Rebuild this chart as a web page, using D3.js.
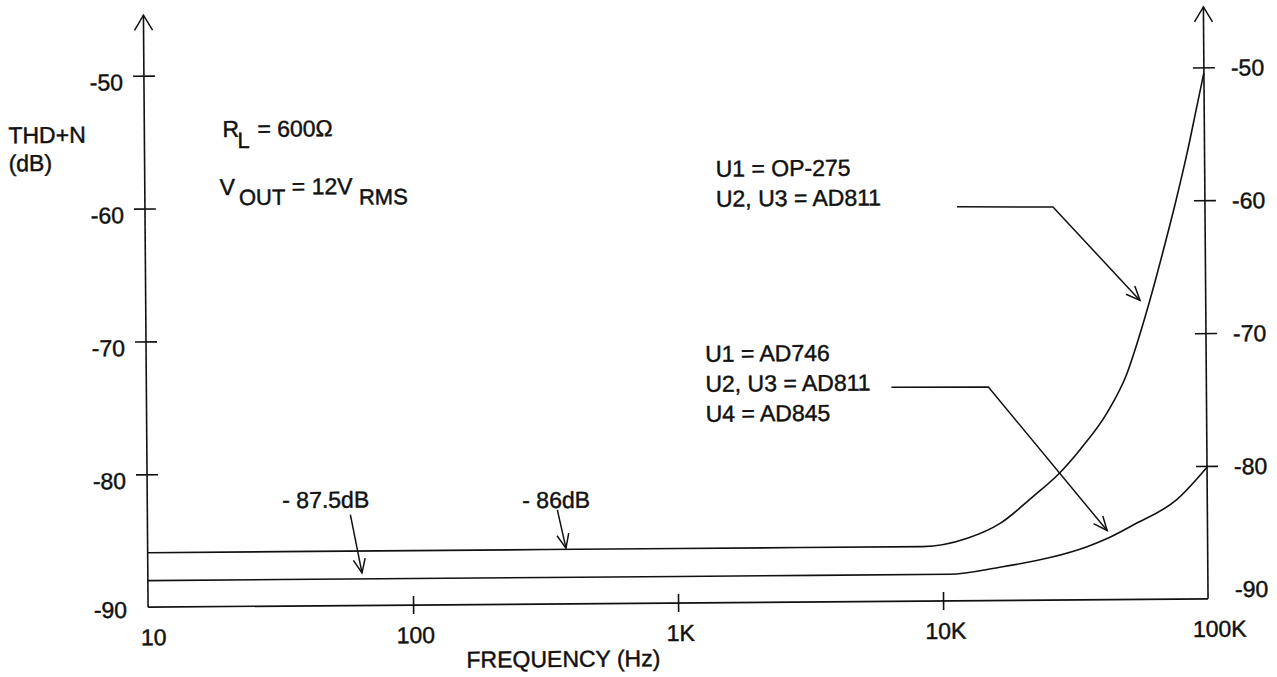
<!DOCTYPE html>
<html>
<head>
	<title>thd-n-vs-frequency</title>
	<meta charset="utf-8">
	<style type="text/css">
		body { margin: 0; background: #fff; }
		svg { display: block; }
		text { font-family: "Liberation Sans", Arial, Helvetica, sans-serif; fill: #111; stroke: #111; stroke-width: 0.45px; }
	</style>
</head>
<body>

<script type="text/javascript" src="https://cdn.jsdelivr.net/npm/d3@7/dist/d3.min.js"></script>
<script type="text/javascript">
	/*=========DATA=========*/
	var freqTicks = [10, 100, 1000, 10000, 100000];
	var freqLabels = ["10", "100", "1K", "10K", "100K"];
	var dbTicks = [-90, -80, -70, -60, -50];

	// U1 = OP-275, U2, U3 = AD811
	var opFreq = [10, 100, 1000, 8400, 12400, 16500, 22000, 27900, 33200, 42100, 50200, 55400, 62800, 69200, 77100, 85900, 93800, 100000];
	var opThd  = [-85.9, -85.9, -85.9, -85.9, -85.3, -84.2, -82.2, -80.4, -78.7, -75.95, -73.0, -70.5, -66.9, -63.85, -60.3, -56.45, -52.95, -50.4];

	// U1 = AD746, U2, U3 = AD811, U4 = AD845
	var adFreq = [10, 100, 1000, 10600, 16400, 25400, 35100, 41800, 52400, 76900, 100000];
	var adThd  = [-88.0, -88.0, -88.0, -88.0, -87.5, -86.8, -86.0, -85.4, -84.4, -82.5, -80.1];

	/*=====SIZE SVG======*/
	var w = 1277;
	var h = 677;
	var svg = d3.select("body").append("svg").attr("width", w).attr("height", h);
	var fs = 23;

	// the scanned original sits slightly rotated
	var plot = svg.append("g").attr("transform", "rotate(-0.45, 678, 340)");

	/*=========SCALES============*/
	var x = d3.scaleLog().domain([10, 100000]).range([146, 1206]);
	var y = d3.scaleLinear().domain([-90, -50]).range([603, 71.5]);
	var axisTop = 11;

	// arrow heads
	var defs = svg.append("defs");
	defs.append("marker")
		.attr("id", "head")
		.attr("markerUnits", "userSpaceOnUse")
		.attr("viewBox", "-16 -8 18 16")
		.attr("markerWidth", 18).attr("markerHeight", 16)
		.attr("refX", 0).attr("refY", 0)
		.attr("orient", "auto")
		.append("path")
		.attr("d", "M-14,-6L0,0L-14,6")
		.attr("fill", "none").attr("stroke", "#111").attr("stroke-width", 1.5);
	defs.append("marker")
		.attr("id", "axisHead")
		.attr("markerUnits", "userSpaceOnUse")
		.attr("viewBox", "-17 -11 19 22")
		.attr("markerWidth", 19).attr("markerHeight", 22)
		.attr("refX", 0).attr("refY", 0)
		.attr("orient", "auto")
		.append("path")
		.attr("d", "M-15,-9L0,0L-15,9")
		.attr("fill", "none").attr("stroke", "#111").attr("stroke-width", 1.5);

	/*=========AXES============*/
	var axisLines = [
		[[x(10), y(-90)], [x(10), axisTop]],
		[[x(100000), y(-90)], [x(100000), axisTop]]
	];
	plot.selectAll("line.axis")
		.data(axisLines)
		.enter()
		.append("line")
		.attr("class", "axis")
		.attr("x1", function(d){ return d[0][0]; })
		.attr("y1", function(d){ return d[0][1]; })
		.attr("x2", function(d){ return d[1][0]; })
		.attr("y2", function(d){ return d[1][1]; })
		.attr("stroke", "#111").attr("stroke-width", 1.6)
		.attr("marker-end", "url(#axisHead)");

	plot.append("line")
		.attr("x1", x(10)).attr("x2", x(100000))
		.attr("y1", y(-90)).attr("y2", y(-90))
		.attr("stroke", "#111").attr("stroke-width", 1.6);

	function styleAxis(g) {
		g.attr("font-size", null).attr("font-family", null);
		g.select(".domain").remove();
		g.selectAll(".tick line").attr("stroke", "#111").attr("stroke-width", 1.6);
		g.selectAll(".tick text").style("font-size", fs + "px").attr("fill", "#111");
	}

	// left
	var gL = plot.append("g")
		.attr("transform", "translate(" + x(10) + ",0)")
		.call(d3.axisLeft(y).tickValues(dbTicks).tickSize(11).tickFormat(function(d){ return String(d); }));
	styleAxis(gL);
	gL.selectAll(".tick line").attr("x1", 11);
	gL.selectAll(".tick").filter(function(d){ return d === -90; }).select("line").remove();
	gL.selectAll(".tick text")
		.attr("x", -21).attr("dy", null)
		.attr("y", function(d){ return d === -90 ? 10 : 14; });

	// right
	var gR = plot.append("g")
		.attr("transform", "translate(" + x(100000) + ",0)")
		.call(d3.axisRight(y).tickValues(dbTicks).tickSize(11).tickFormat(function(d){ return String(d); }));
	styleAxis(gR);
	gR.selectAll(".tick line").attr("x1", -11);
	gR.selectAll(".tick").filter(function(d){ return d === -90; }).select("line").remove();
	gR.selectAll(".tick text")
		.attr("x", 27).attr("dy", null)
		.attr("y", function(d){ return d === -90 ? -2 : 8; });

	// bottom
	var gB = plot.append("g")
		.attr("transform", "translate(0," + y(-90) + ")")
		.call(d3.axisBottom(x).tickValues(freqTicks).tickSize(9).tickFormat(function(d, i){ return freqLabels[i]; }));
	styleAxis(gB);
	gB.selectAll(".tick line").attr("y1", -9);
	gB.selectAll(".tick").filter(function(d){ return d === 10 || d === 100000; }).select("line").remove();
	gB.selectAll(".tick text")
		.attr("dy", null).attr("y", 38)
		.attr("x", function(d, i){ return i === freqTicks.length - 1 ? 11 : (i === 0 ? 5 : 2); });

	plot.append("text")
		.attr("x", 464).attr("y", 666)
		.style("font-size", fs + "px")
		.text("FREQUENCY (Hz)");

	plot.append("text").attr("x", 10).attr("y", 138).style("font-size", fs + "px").text("THD+N");
	plot.append("text").attr("x", 10).attr("y", 166).style("font-size", fs + "px").text("(dB)");

	/*=========CURVES============*/
	var line = d3.line()
		.x(function(d){ return x(d[0]); })
		.y(function(d){ return y(d[1]); })
		.curve(d3.curveMonotoneX);

	var series = [d3.zip(opFreq, opThd), d3.zip(adFreq, adThd)];
	plot.selectAll("path.curve")
		.data(series)
		.enter()
		.append("path")
		.attr("class", "curve")
		.attr("d", line)
		.attr("fill", "none")
		.attr("stroke", "#111")
		.attr("stroke-width", 1.6);

	/*=========NOTES============*/
	var rl = plot.append("text").style("font-size", fs + "px");
	rl.append("tspan").attr("x", 224).attr("y", 133.5).text("R");
	rl.append("tspan").attr("x", 239).attr("y", 144.5).style("font-size", "22px").text("L");
	rl.append("tspan").attr("x", 259).attr("y", 133.5).text("= 600\u03A9");

	var vo = plot.append("text").style("font-size", fs + "px");
	vo.append("tspan").attr("x", 221).attr("y", 191.5).text("V");
	vo.append("tspan").attr("x", 240).attr("y", 201.5).style("font-size", "22px").text("OUT");
	vo.append("tspan").attr("x", 293).attr("y", 191.5).text("= 12V");
	vo.append("tspan").attr("x", 360).attr("y", 202).style("font-size", "22px").text("RMS");

	var notes = [
		{x: 717, y: 177, t: "U1 = OP-275"},
		{x: 717, y: 207, t: "U2, U3 = AD811"},
		{x: 705, y: 362, t: "U1 = AD746"},
		{x: 705, y: 392, t: "U2, U3 = AD811"},
		{x: 705, y: 422, t: "U4 = AD845"},
		{x: 281, y: 505, t: "- 87.5dB"},
		{x: 521, y: 507, t: "- 86dB"}
	];
	plot.selectAll("text.note")
		.data(notes)
		.enter()
		.append("text")
		.attr("class", "note")
		.attr("x", function(d){ return d.x; })
		.attr("y", function(d){ return d.y; })
		.style("font-size", fs + "px")
		.text(function(d){ return d.t; });

	// leaders: pixel start points, tips in data units
	var leaders = [
		{pts: [[958, 209], [1054, 210]], tip: [56500, -67.5]},
		{pts: [[891, 389], [988, 389.5]], tip: [41800, -84.8]},
		{pts: [[349, 512]], tip: [64.3, -87.55]},
		{pts: [[556, 509]], tip: [379, -85.8]}
	];
	plot.selectAll("path.leader")
		.data(leaders)
		.enter()
		.append("path")
		.attr("class", "leader")
		.attr("d", function(d){
			return d3.line()(d.pts.concat([[x(d.tip[0]), y(d.tip[1])]]));
		})
		.attr("fill", "none")
		.attr("stroke", "#111")
		.attr("stroke-width", 1.5)
		.attr("marker-end", "url(#head)");
</script>
</body>
</html>
